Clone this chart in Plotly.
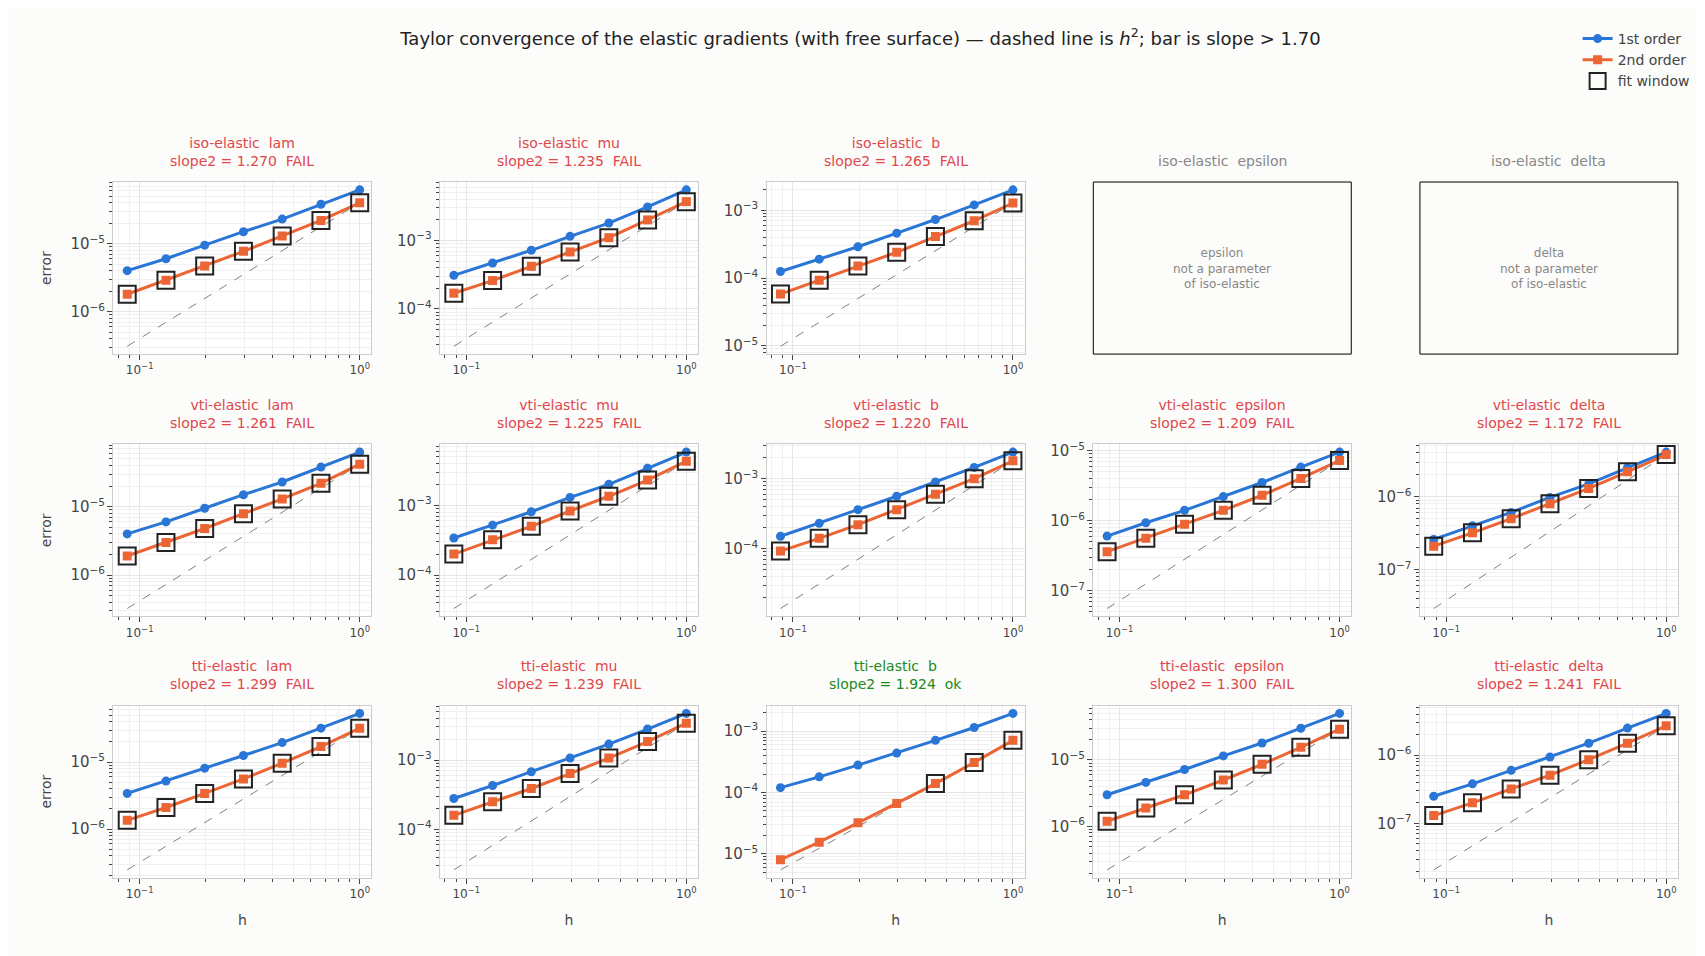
import plotly.graph_objects as go
import numpy as np

# taylor test convergence, one panel per (model, parameter)
h = [0.0878, 0.1317, 0.1975, 0.2963, 0.4444, 0.6667, 1.0]

models = ['iso-elastic', 'vti-elastic', 'tti-elastic']
params = ['lam', 'mu', 'b', 'epsilon', 'delta']

first = {
    ('iso-elastic', 'lam'): [4e-6, 6e-6, 9.5e-6, 1.5e-5, 2.3e-5, 3.8e-5, 6.2e-5],
    ('iso-elastic', 'mu'): [3.1e-4, 4.7e-4, 7.2e-4, 1.15e-3, 1.8e-3, 3.1e-3, 5.5e-3],
    ('iso-elastic', 'b'): [1.25e-4, 1.9e-4, 2.9e-4, 4.6e-4, 7.3e-4, 1.2e-3, 2.0e-3],
    ('vti-elastic', 'lam'): [4e-6, 6e-6, 9.5e-6, 1.5e-5, 2.3e-5, 3.8e-5, 6.3e-5],
    ('vti-elastic', 'mu'): [3.4e-4, 5.2e-4, 8.1e-4, 1.3e-3, 2.0e-3, 3.4e-3, 5.8e-3],
    ('vti-elastic', 'b'): [1.5e-4, 2.3e-4, 3.6e-4, 5.6e-4, 9e-4, 1.45e-3, 2.4e-3],
    ('vti-elastic', 'epsilon'): [6e-7, 9.3e-7, 1.4e-6, 2.2e-6, 3.5e-6, 5.8e-6, 9.5e-6],
    ('vti-elastic', 'delta'): [2.6e-7, 4e-7, 6.1e-7, 9.8e-7, 1.5e-6, 2.5e-6, 4.1e-6],
    ('tti-elastic', 'lam'): [3.4e-6, 5.2e-6, 8.1e-6, 1.25e-5, 1.95e-5, 3.2e-5, 5.3e-5],
    ('tti-elastic', 'mu'): [2.8e-4, 4.3e-4, 6.8e-4, 1.07e-3, 1.7e-3, 2.8e-3, 4.7e-3],
    ('tti-elastic', 'b'): [1.2e-4, 1.8e-4, 2.8e-4, 4.4e-4, 7.1e-4, 1.15e-3, 1.95e-3],
    ('tti-elastic', 'epsilon'): [3e-6, 4.6e-6, 7.2e-6, 1.15e-5, 1.8e-5, 3e-5, 5e-5],
    ('tti-elastic', 'delta'): [2.5e-7, 3.8e-7, 6e-7, 9.4e-7, 1.5e-6, 2.5e-6, 4.1e-6],
}
second = {
    ('iso-elastic', 'lam'): [1.8e-6, 2.9e-6, 4.7e-6, 7.7e-6, 1.3e-5, 2.2e-5, 4.0e-5],
    ('iso-elastic', 'mu'): [1.7e-4, 2.6e-4, 4.2e-4, 6.8e-4, 1.1e-3, 2.0e-3, 3.7e-3],
    ('iso-elastic', 'b'): [5.8e-5, 9.3e-5, 1.5e-4, 2.4e-4, 4.1e-4, 7.0e-4, 1.28e-3],
    ('vti-elastic', 'lam'): [1.9e-6, 3.0e-6, 4.8e-6, 7.9e-6, 1.3e-5, 2.2e-5, 4.2e-5],
    ('vti-elastic', 'mu'): [2.0e-4, 3.2e-4, 5.0e-4, 8.3e-4, 1.35e-3, 2.3e-3, 4.3e-3],
    ('vti-elastic', 'b'): [9.2e-5, 1.4e-4, 2.2e-4, 3.6e-4, 6e-4, 1.0e-3, 1.8e-3],
    ('vti-elastic', 'epsilon'): [3.6e-7, 5.6e-7, 8.9e-7, 1.4e-6, 2.3e-6, 4.0e-6, 7.2e-6],
    ('vti-elastic', 'delta'): [2.1e-7, 3.2e-7, 5e-7, 8e-7, 1.3e-6, 2.2e-6, 3.8e-6],
    ('tti-elastic', 'lam'): [1.35e-6, 2.1e-6, 3.4e-6, 5.6e-6, 9.6e-6, 1.7e-5, 3.2e-5],
    ('tti-elastic', 'mu'): [1.6e-4, 2.5e-4, 3.9e-4, 6.4e-4, 1.07e-3, 1.85e-3, 3.4e-3],
    ('tti-elastic', 'b'): [8e-6, 1.55e-5, 3.2e-5, 6.6e-5, 1.4e-4, 3.1e-4, 7.1e-4],
    ('tti-elastic', 'epsilon'): [1.2e-6, 1.9e-6, 3e-6, 5e-6, 8.6e-6, 1.55e-5, 2.9e-5],
    ('tti-elastic', 'delta'): [1.3e-7, 2e-7, 3.2e-7, 5.1e-7, 8.6e-7, 1.5e-6, 2.7e-6],
}
slopes = {
    ('iso-elastic', 'lam'): 1.270, ('iso-elastic', 'mu'): 1.235, ('iso-elastic', 'b'): 1.265,
    ('vti-elastic', 'lam'): 1.261, ('vti-elastic', 'mu'): 1.225, ('vti-elastic', 'b'): 1.220,
    ('vti-elastic', 'epsilon'): 1.209, ('vti-elastic', 'delta'): 1.172,
    ('tti-elastic', 'lam'): 1.299, ('tti-elastic', 'mu'): 1.239, ('tti-elastic', 'b'): 1.924,
    ('tti-elastic', 'epsilon'): 1.300, ('tti-elastic', 'delta'): 1.241,
}
# number of points (from large h) inside the fit window
fit_n = {('tti-elastic', 'b'): 3}

BLUE = '#2a76d6'
ORANGE = '#ec6535'
RED = '#e0474c'
GREEN = '#1a8a1a'
GRAY = '#888888'

col_x0 = [0.051 + i * 0.195 for i in range(5)]
col_w = 0.154
row_y = [(0.644, 0.829), (0.362, 0.547), (0.081, 0.266)]

fig = go.Figure()
k = 0
for r, m in enumerate(models):
    for c, p in enumerate(params):
        k += 1
        xa = 'x' if k == 1 else 'x%d' % k
        ya = 'y' if k == 1 else 'y%d' % k
        xd = [col_x0[c], col_x0[c] + col_w]
        yd = list(row_y[r])
        xc = (xd[0] + xd[1]) / 2
        title_y = yd[1] + 0.012
        key = (m, p)
        if key not in first:
            fig.add_shape(type='rect', xref='paper', yref='paper',
                          x0=xd[0], x1=xd[1], y0=yd[0], y1=yd[1], line=dict(color='black', width=1))
            fig.add_annotation(xref='paper', yref='paper', x=xc, y=(yd[0] + yd[1]) / 2,
                               xanchor='center', yanchor='middle',
                               text='%s<br>not a parameter<br>of %s' % (p, m), showarrow=False,
                               font=dict(size=12, color=GRAY))
            fig.add_annotation(xref='paper', yref='paper', x=xc, y=title_y,
                               xanchor='center', yanchor='bottom', text='%s  %s' % (m, p),
                               showarrow=False, font=dict(size=14, color=GRAY))
            continue
        e1 = first[key]
        e2 = second[key]
        ref = [e2[-1] * hh ** 2 for hh in h]
        n = fit_n.get(key, len(h))
        fig.add_trace(go.Scatter(x=h, y=ref, mode='lines', xaxis=xa, yaxis=ya, showlegend=False,
                                 line=dict(color='gray', width=1, dash='dash')))
        fig.add_trace(go.Scatter(x=h, y=e1, mode='lines+markers', xaxis=xa, yaxis=ya,
                                 name='1st order', showlegend=(k == 1),
                                 line=dict(color=BLUE, width=3), marker=dict(size=9)))
        fig.add_trace(go.Scatter(x=h, y=e2, mode='lines+markers', xaxis=xa, yaxis=ya,
                                 name='2nd order', showlegend=(k == 1),
                                 line=dict(color=ORANGE, width=3),
                                 marker=dict(size=9, symbol='square')))
        fig.add_trace(go.Scatter(x=h[-n:], y=e2[-n:], mode='markers', xaxis=xa, yaxis=ya,
                                 name='fit window', showlegend=(k == 1),
                                 marker=dict(size=17, symbol='square-open',
                                             line=dict(color='#222222', width=2),
                                             color='#222222')))
        s = slopes[key]
        ok = s > 1.70
        fig.add_annotation(xref='paper', yref='paper', x=xc, y=title_y,
                           xanchor='center', yanchor='bottom',
                           text='%s  %s<br>slope2 = %.3f  %s' % (m, p, s, 'ok' if ok else 'FAIL'),
                           showarrow=False, font=dict(size=14, color=GREEN if ok else RED))
        lo = np.log10(min(min(e1), min(e2), min(ref)))
        hi = np.log10(max(max(e1), max(e2)))
        pad = (hi - lo) * 0.05
        fig.update_layout(**{
            'xaxis%d' % k: dict(domain=xd, type='log', range=[np.log10(0.076), np.log10(1.13)],
                                anchor=ya, tickvals=[0.1, 1], ticktext=['10<sup>−1</sup>', '10<sup>0</sup>'],
                                title=dict(text='h', font=dict(size=14)) if r == 2 else None,
                                showgrid=True, gridcolor='#e6e6e6',
                                minor=dict(showgrid=True, gridcolor='#f0f0f0', ticks='outside', ticklen=3,
                                           dtick='D1'),
                                ticks='outside', ticklen=5, showline=True, linecolor='#cccccc', mirror=True,
                                zeroline=False),
            'yaxis%d' % k: dict(domain=yd, type='log', range=[lo - pad, hi + pad], anchor=xa,
                                dtick=1, exponentformat='power', showexponent='all',
                                title=dict(text='error', font=dict(size=14)) if c == 0 else None,
                                showgrid=True, gridcolor='#e6e6e6',
                                minor=dict(showgrid=True, gridcolor='#f0f0f0', ticks='outside', ticklen=3,
                                           dtick='D1'),
                                ticks='outside', ticklen=5, showline=True, linecolor='#cccccc', mirror=True,
                                zeroline=False),
        })

fig.update_layout(
    width=1705, height=956,
    paper_bgcolor='#fcfcfa', plot_bgcolor='white',
    font=dict(family='DejaVu Sans', size=12, color='#444444'),
    title=dict(text='Taylor convergence of the elastic gradients (with free surface) — dashed line is <i>h</i><sup>2</sup>; bar is slope > 1.70',
               x=0.5, y=0.975, xanchor='center', font=dict(size=18, color='#222222')),
    legend=dict(x=0.995, y=1.0, xanchor='right', yanchor='top', bgcolor='rgba(0,0,0,0)',
                font=dict(size=14)),
    margin=dict(l=20, r=10, t=10, b=10),
)

fig.write_html('out.html')
